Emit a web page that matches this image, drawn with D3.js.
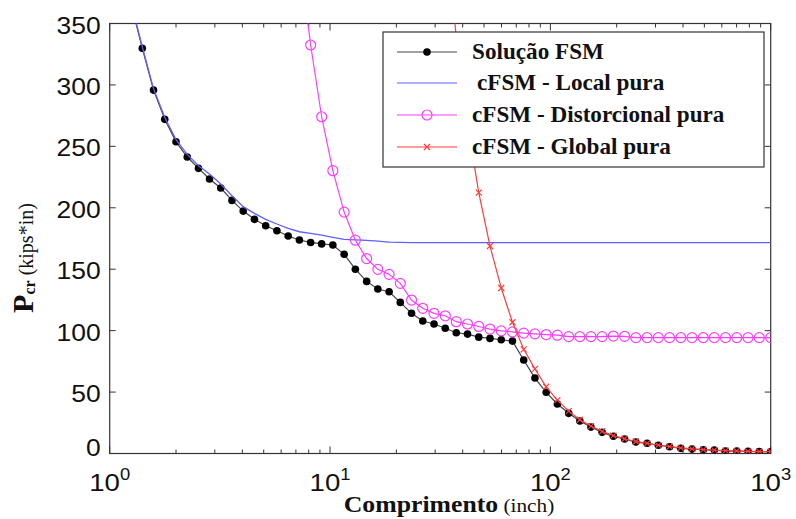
<!DOCTYPE html>
<meta charset="utf-8">
<body style="margin:0;background:#fff">

<script src="https://cdn.jsdelivr.net/npm/d3@7"></script>

<div id="my_dataviz"></div>

<script>

// lengths (inch), one value per analysed half-wavelength
var lengths = [1.25, 1.406, 1.581, 1.778, 2.0, 2.249, 2.529, 2.838, 3.192, 3.589,
  4.036, 4.539, 5.105, 5.741, 6.457, 7.261, 8.166, 9.162, 10.30, 11.59,
  13.03, 14.66, 16.48, 18.54, 20.84, 23.44, 26.36, 29.65, 33.34, 37.41,
  42.07, 47.32, 53.21, 59.84, 67.30, 75.68, 85.11, 95.72, 107.6, 121.1,
  136.1, 152.8, 171.8, 193.2, 217.3, 244.3, 274.8, 309.0, 347.5, 390.8,
  439.5, 494.3, 554.6, 623.7, 701.5, 788.9, 887.2, 1000];

// Solução FSM
var fsm = [366, 329.8, 295.8, 272.0, 253.7, 241.3, 232.1, 223.4, 216.1, 206.0,
  197.3, 190.6, 185.4, 181.3, 177.0, 173.8, 171.8, 170.6, 169.7, 162.1,
  150.0, 140.1, 133.9, 131.7, 123.0, 114.1, 107.8, 105.4, 101.9, 98.3,
  97.2, 94.7, 93.7, 92.6, 91.5, 76.1, 61.4, 49.8, 40.3, 32.7,
  26.4, 21.5, 17.2, 14.0, 11.8, 9.3, 8.3, 6.7, 5.5, 4.2,
  3.6, 3.1, 2.8, 2.0, 2.0, 1.8, 1.5, 1.4];

// cFSM - Local pura
var local = [367, 331, 297, 273.5, 255.5, 243.5, 234.2, 227.5, 219.3, 209.8,
  200.9, 195.5, 190.6, 186.8, 183.3, 180.5, 179.2, 177.8, 176.0, 174.3,
  173.8, 173.5, 172.9, 172.1, 171.8, 171.7, 171.6, 171.6, 171.6, 171.6,
  171.6, 171.6, 171.6, 171.6, 171.6, 171.6, 171.6, 171.6, 171.6, 171.6,
  171.6, 171.6, 171.6, 171.6, 171.6, 171.6, 171.6, 171.6, 171.6, 171.6,
  171.6, 171.6, 171.6, 171.6, 171.6, 171.6, 171.6, 171.6];

// cFSM - Distorcional pura
var distorcional = [null, null, null, null, null, null, null, null, null, null,
  null, null, null, null, null, 405, 332.5, 274.1, 230.2, 196.5,
  173.6, 158.7, 149.9, 145.8, 138.5, 124.9, 118.2, 114.1, 112.1, 107.3,
  105.4, 103.4, 101.3, 99.8, 99.0, 98.0, 97.4, 96.8, 96.3, 95.1,
  95.1, 95.1, 95.1, 95.6, 95.4, 94.3, 94.3, 94.3, 94.3, 94.3,
  94.3, 94.3, 94.3, 94.3, 94.3, 94.3, 94.3, 94.3];

// cFSM - Global pura
var global = [null, null, null, null, null, null, null, null, null, null,
  null, null, null, null, null, null, null, null, null, null,
  null, null, null, null, null, null, null, null, 428, 339,
  268, 212.3, 168.9, 134.7, 106.8, 84.8, 68.9, 54.3, 43.5, 34.5,
  27.5, 22.3, 18.0, 14.6, 12.0, 9.8, 8.3, 6.8, 5.6, 4.6,
  3.8, 3.2, 2.7, 2.3, 2.0, 1.8, 1.6, 1.5];

var yTicks = [0, 50, 100, 150, 200, 250, 300, 350];
var xDecades = [1, 10, 100, 1000];
var legendLabels = ["Solução FSM", "cFSM - Local pura", "cFSM - Distorcional pura", "cFSM - Global pura"];

// set the dimensions and margins of the graph
var margin = {top: 23.5, right: 25.3, bottom: 65.5, left: 109.7},
    width = 796 - margin.left - margin.right,
    height = 519 - margin.top - margin.bottom;

var svg = d3.select("#my_dataviz")
  .append("svg")
    .attr("width", 796)
    .attr("height", 519)
  .append("g")
    .attr("transform", "translate(" + margin.left + "," + margin.top + ")");

var x = d3.scaleLog().domain([1, 1000]).range([0, width]);
var y = d3.scaleLinear().domain([0, 350]).range([height, 0]);

svg.append("clipPath").attr("id", "clip")
  .append("rect").attr("width", width).attr("height", height);

// frame
svg.append("rect")
  .attr("width", width).attr("height", height)
  .attr("fill", "none").attr("stroke", "#333").attr("stroke-width", 1.2);

// x ticks (major and minor) pointing inward, bottom and top
var minor = [];
xDecades.slice(0, 3).forEach(function(d) {
  for (var m = 2; m < 10; m++) minor.push(d * m);
});
var xtickData = xDecades.map(function(d) { return {v: d, len: 7}; })
  .concat(minor.map(function(d) { return {v: d, len: 4}; }));
xtickData.forEach(function(t) {
  svg.append("line").attr("x1", x(t.v)).attr("x2", x(t.v))
    .attr("y1", height).attr("y2", height - t.len)
    .attr("stroke", "#333");
  svg.append("line").attr("x1", x(t.v)).attr("x2", x(t.v))
    .attr("y1", 0).attr("y2", t.len)
    .attr("stroke", "#333");
});

// y ticks left and right
yTicks.forEach(function(v) {
  svg.append("line").attr("x1", 0).attr("x2", 6)
    .attr("y1", y(v)).attr("y2", y(v)).attr("stroke", "#333");
  svg.append("line").attr("x1", width).attr("x2", width - 6)
    .attr("y1", y(v)).attr("y2", y(v)).attr("stroke", "#333");
});

// y tick labels
yTicks.forEach(function(v) {
  var yy = y(v) + 10 + (v === 0 ? -8 : 0);
  svg.append("text")
    .attr("transform", "translate(-9," + yy + ") scale(1.15,1)")
    .attr("text-anchor", "end")
    .style("font-family", "Liberation Sans, Arial, sans-serif")
    .style("font-size", "23px")
    .attr("fill", "#111")
    .text(v);
});

// x tick labels 10^n
xDecades.forEach(function(d, i) {
  var t = svg.append("text")
    .attr("transform", "translate(" + x(d) + "," + (height + 37) + ") scale(1.15,1)")
    .attr("text-anchor", "middle")
    .style("font-family", "Liberation Sans, Arial, sans-serif")
    .style("font-size", "24px")
    .attr("fill", "#111");
  t.append("tspan").text("10");
  t.append("tspan").attr("dy", -11).style("font-size", "16px").text(i);
});

// axis titles
var xl = svg.append("text")
  .attr("transform", "translate(" + (449 - margin.left) + "," + (512 - margin.top) + ") scale(1.12,1)")
  .attr("text-anchor", "middle")
  .style("font-family", "Liberation Serif, Times New Roman, serif")
  .attr("fill", "#111");
xl.append("tspan").style("font-size", "23px").style("font-weight", "bold").text("Comprimento");
xl.append("tspan").style("font-size", "19px").text(" (inch)");

var yl = svg.append("text")
  .attr("transform", "translate(" + (33 - margin.left) + "," + (258 - margin.top) + ") rotate(-90)")
  .attr("text-anchor", "middle")
  .style("font-family", "Liberation Serif, Times New Roman, serif")
  .attr("fill", "#111");
yl.append("tspan").style("font-size", "30px").style("font-weight", "bold").text("P");
yl.append("tspan").attr("dy", 2).style("font-size", "16px").style("font-weight", "bold").text("cr");
yl.append("tspan").attr("dy", -2).style("font-size", "20px").text(" (kips*in)");

// series
var plot = svg.append("g").attr("clip-path", "url(#clip)");

function series(values) {
  return lengths.map(function(l, i) { return {l: l, v: values[i]}; })
    .filter(function(d) { return d.v !== null; });
}

var line = d3.line()
  .x(function(d) { return x(d.l); })
  .y(function(d) { return y(d.v); });

var dFsm = series(fsm), dLocal = series(local),
    dDist = series(distorcional), dGlob = series(global);

plot.append("path").datum(dFsm).attr("d", line)
  .attr("fill", "none").attr("stroke", "#444").attr("stroke-width", 1.2);
plot.selectAll(".fsmdot").data(dFsm).enter().append("circle")
  .attr("cx", function(d) { return x(d.l); })
  .attr("cy", function(d) { return y(d.v); })
  .attr("r", 3.8).attr("fill", "#000");

plot.append("path").datum(dLocal).attr("d", line)
  .attr("fill", "none").attr("stroke", "#6060ff").attr("stroke-width", 1.3);

plot.append("path").datum(dDist).attr("d", line)
  .attr("fill", "none").attr("stroke", "#ff3cff").attr("stroke-width", 1.2);
plot.selectAll(".distdot").data(dDist).enter().append("circle")
  .attr("cx", function(d) { return x(d.l); })
  .attr("cy", function(d) { return y(d.v); })
  .attr("r", 5).attr("fill", "none").attr("stroke", "#ff3cff").attr("stroke-width", 1.2);

plot.append("path").datum(dGlob).attr("d", line)
  .attr("fill", "none").attr("stroke", "#ff3c3c").attr("stroke-width", 1.2);
plot.selectAll(".globdot").data(dGlob).enter().append("path")
  .attr("transform", function(d) { return "translate(" + x(d.l) + "," + y(d.v) + ")"; })
  .attr("d", "M-3,-3L3,3M-3,3L3,-3")
  .attr("stroke", "#ff3c3c").attr("stroke-width", 1.2);

// legend
var lg = svg.append("g").attr("transform", "translate(" + (383 - margin.left) + "," + (32 - margin.top) + ")");
lg.append("rect").attr("width", 381).attr("height", 135)
  .attr("fill", "#fff").attr("stroke", "#333").attr("stroke-width", 1.2);

var rowY = [20, 51, 83, 115];
var colors = ["#444", "#6060ff", "#ff3cff", "#ff3c3c"];
legendLabels.forEach(function(lab, i) {
  lg.append("line").attr("x1", 14).attr("x2", 74)
    .attr("y1", rowY[i]).attr("y2", rowY[i])
    .attr("stroke", colors[i]).attr("stroke-width", 1.2);
  if (i === 0) {
    lg.append("circle").attr("cx", 44).attr("cy", rowY[i]).attr("r", 3.8).attr("fill", "#000");
  } else if (i === 2) {
    lg.append("circle").attr("cx", 44).attr("cy", rowY[i]).attr("r", 5)
      .attr("fill", "none").attr("stroke", colors[i]).attr("stroke-width", 1.2);
  } else if (i === 3) {
    lg.append("path").attr("transform", "translate(44," + rowY[i] + ")")
      .attr("d", "M-3,-3L3,3M-3,3L3,-3").attr("stroke", colors[i]).attr("stroke-width", 1.2);
  }
  lg.append("text")
    .attr("transform", "translate(" + (i === 1 ? 94 : 89) + "," + (rowY[i] + 7) + ") scale(1.03,1)")
    .style("font-family", "Liberation Serif, Times New Roman, serif")
    .style("font-size", "22.5px").style("font-weight", "bold")
    .attr("fill", "#111")
    .text(lab);
});

</script>

</body>
